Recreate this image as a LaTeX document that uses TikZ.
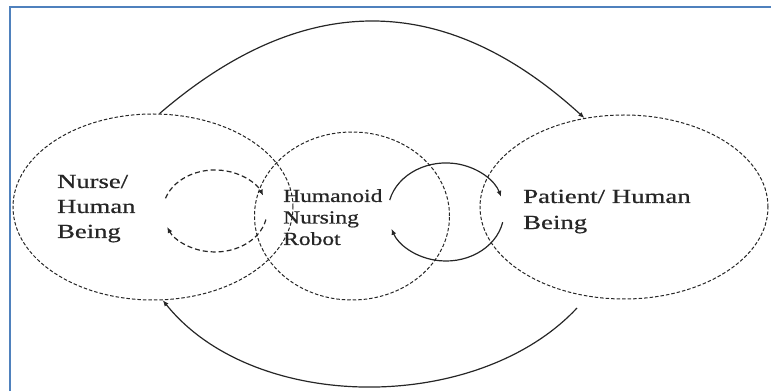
\documentclass[tikz,border=0pt]{standalone}
\usepackage{fontspec}
\setmainfont{Liberation Serif}
\newfontfamily\lblfont[FakeBold=0.6]{Liberation Serif}
\usetikzlibrary{shapes.geometric,arrows.meta}
\definecolor{frameblue}{RGB}{79,129,189}
\begin{document}
\begin{tikzpicture}[x=1pt,y=1pt,
  ring/.style={ellipse, draw=black!85, line width=1pt, dash pattern=on 3.5pt off 2pt, inner sep=0pt},
  flow/.style={draw=black!85, line width=1.2pt, -{Latex[length=6pt,width=5pt]}},
  dflow/.style={flow, dash pattern=on 5pt off 3pt},
  lbl/.style={anchor=base west, inner sep=0pt, text=black!85, font=\lblfont}]
\path[use as bounding box] (0,0) rectangle (771,391);
\draw[frameblue, line width=2pt] (10,0) -- (10,384) -- (771,384);
% ellipses
\node[ring, minimum width=280pt, minimum height=186pt] (nurse) at (153,184) {};
\node[ring, minimum width=195pt, minimum height=168pt] (robot) at (352,175) {};
\node[ring, minimum width=288pt, minimum height=184pt] (patient) at (624,184) {};
% labels
\node[lbl] (nursetxt) at (57,203) {\scalebox{1.33}[1]{\fontsize{20}{25}\selectfont\begin{tabular}[t]{@{}l@{}}Nurse/\\Human\\Being\end{tabular}}};
\node[lbl] (robottxt) at (283,189) {\scalebox{1.27}[1]{\fontsize{18.5}{21.5}\selectfont\begin{tabular}[t]{@{}l@{}}Humanoid\\Nursing\\Robot\end{tabular}}};
\node[lbl] (patienttxt) at (523,188) {\scalebox{1.34}[1]{\fontsize{20}{26}\selectfont\begin{tabular}[t]{@{}l@{}}Patient/ Human\\Being\end{tabular}}};
% outer arcs
\draw[flow] (nurse.86) .. controls (303,401) and (444,401) .. (patient.114);
\coordinate (botstart) at (577,83);
\draw[flow] (botstart) .. controls (478,-23) and (254,-23) .. (nurse.276);
% dashed arcs nurse <-> robot
\coordinate (d1s) at (165.5,192.7);
\coordinate (d2s) at (265.9,171.5);
\draw[dflow] (d1s) arc[start angle=162, end angle=22, x radius=52, y radius=41];
\draw[dflow] (d2s) arc[start angle=-12, end angle=-157, x radius=52, y radius=41];
% solid arcs robot <-> patient
\coordinate (s1s) at (389.7,190.9);
\coordinate (s2s) at (502.7,168.8);
\draw[flow] (s1s) arc[start angle=166, end angle=18, x radius=58, y radius=49];
\draw[flow] (s2s) arc[start angle=-12, end angle=-160, x radius=58, y radius=49];
\end{tikzpicture}
\end{document}
